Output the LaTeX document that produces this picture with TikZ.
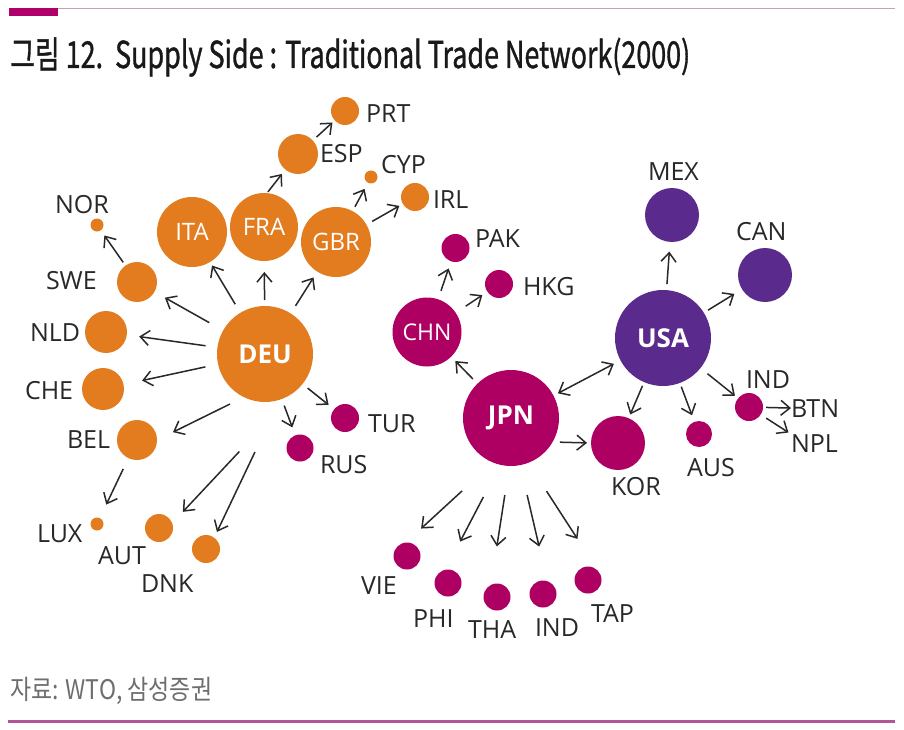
\documentclass[tikz,border=0pt]{standalone}
\usepackage{graphicx}
\usepackage{fontspec}
\setmainfont{Open Sans}
\newfontfamily\krfont{Noto Sans CJK KR}
\newfontfamily\krtitle[FakeBold=1.2]{Noto Sans CJK KR}
\usetikzlibrary{arrows.meta}
\definecolor{orng}{RGB}{226,124,31}
\definecolor{mgnt}{RGB}{174,0,98}
\definecolor{prpl}{RGB}{90,42,140}
\definecolor{ink}{RGB}{40,40,40}
\definecolor{rulec}{RGB}{200,160,190}
\definecolor{barc}{RGB}{176,0,106}
\definecolor{botline}{RGB}{178,84,152}
\definecolor{titlec}{RGB}{25,25,25}
\definecolor{srcc}{RGB}{110,110,110}
\begin{document}
\begin{tikzpicture}[x=1pt,y=-1pt,
  dot/.style={circle,inner sep=0pt,outer sep=0pt,minimum size={2pt*#1},text=white,font=\fontsize{24}{24}\selectfont},
  onode/.style={dot=#1,fill=orng},
  mnode/.style={dot=#1,fill=mgnt},
  pnode/.style={dot=#1,fill=prpl},
  big/.style={font=\fontsize{26}{26}\selectfont\bfseries},
  lbl/.style={anchor=base west,inner sep=0pt,outer sep=0pt,text=ink,font=\fontsize{25}{25}\selectfont},
  arr/.style={draw=ink,line width=1.5pt,-{Straight Barb[length=9pt,width=15pt]}},
  arrb/.style={draw=ink,line width=1.5pt,{Straight Barb[length=9pt,width=15pt]}-{Straight Barb[length=9pt,width=15pt]}}]
\fill[white] (0,0) rectangle (904,730);
\useasboundingbox (0,0) rectangle (904,730);
% header / footer
\draw[rulec,line width=1pt] (9,8.5) -- (895,8.5);
\fill[barc] (9,8) rectangle (58,16);
\node[anchor=base west,inner sep=0pt,text=titlec] (title) at (10,68)
  {\resizebox{680pt}{\height}{\krtitle\fontsize{37}{37}\selectfont 그림 12.\ \ Supply Side : Traditional Trade Network(2000)}};
\node[anchor=base west,inner sep=0pt,text=srcc] (src) at (10,699)
  {\resizebox{202pt}{\height}{\krfont\fontsize{27}{27}\selectfont 자료: WTO, 삼성증권}};
\draw[botline,line width=2.7pt] (8,721.3) -- (895,721.3);
% orange nodes
\node[onode=48,big] (deu) at (265,354) {DEU};
\node[onode=35] (ita) at (192,232) {ITA};
\node[onode=34] (fra) at (264,227) {FRA};
\node[onode=35] (gbr) at (336,242) {GBR};
\node[onode=20] (esp) at (298,154) {};
\node[onode=14] (prt) at (345,111) {};
\node[onode=6.5] (cyp) at (371,177) {};
\node[onode=14] (irl) at (415,197) {};
\node[onode=6.5] (nor) at (97,225) {};
\node[onode=20] (swe) at (137,282) {};
\node[onode=21] (nld) at (106,332) {};
\node[onode=21] (che) at (103,389) {};
\node[onode=20] (bel) at (137,440) {};
\node[onode=6.5] (lux) at (97,524) {};
\node[onode=14] (aut) at (159,528) {};
\node[onode=14] (dnk) at (206,549) {};
% magenta nodes
\node[mnode=14] (tur) at (345,418) {};
\node[mnode=13.5] (rus) at (300,448) {};
\node[mnode=34.5,font=\fontsize{23}{23}\selectfont] (chn) at (427,332) {CHN};
\node[mnode=14] (pak) at (455.5,248) {};
\node[mnode=14] (hkg) at (499,284) {};
\node[mnode=48,big] (jpn) at (511,418) {JPN};
\node[mnode=27] (kor) at (618,443) {};
\node[mnode=13] (aus) at (699,434) {};
\node[mnode=14] (ind1) at (749,407) {};
\node[mnode=13.5] (vie) at (407,556) {};
\node[mnode=13.5] (phi) at (448,583) {};
\node[mnode=13.5] (tha) at (497,597) {};
\node[mnode=13.5] (ind2) at (543,594) {};
\node[mnode=13.5] (tap) at (588,580) {};
% purple nodes
\node[pnode=48,big] (usa) at (663,338) {USA};
\node[pnode=27] (mex) at (672,215) {};
\node[pnode=27] (can) at (765,275) {};
% labels
\node[lbl] (lprt) at (366,123) {PRT};
\node[lbl] (lesp) at (320,163) {ESP};
\node[lbl] (lcyp) at (381,174) {CYP};
\node[lbl] (lirl) at (433,208) {IRL};
\node[lbl] (lnor) at (55,213) {NOR};
\node[lbl] (lswe) at (46,289) {SWE};
\node[lbl] (lnld) at (30,341) {NLD};
\node[lbl] (lche) at (25,399) {CHE};
\node[lbl] (lbel) at (67,448) {BEL};
\node[lbl] (ltur) at (368,432) {TUR};
\node[lbl] (lrus) at (320,473) {RUS};
\node[lbl] (llux) at (37,542) {LUX};
\node[lbl] (laut) at (98,564) {AUT};
\node[lbl] (ldnk) at (141,592) {DNK};
\node[lbl] (lvie) at (361,594) {VIE};
\node[lbl] (lphi) at (413,627) {PHI};
\node[lbl] (ltha) at (468,638) {THA};
\node[lbl] (lind2) at (535,636) {IND};
\node[lbl] (ltap) at (591,622) {TAP};
\node[lbl] (lkor) at (611,495) {KOR};
\node[lbl] (laus) at (687,476) {AUS};
\node[lbl] (lpak) at (475,247) {PAK};
\node[lbl] (lhkg) at (523,295) {HKG};
\node[lbl] (lmex) at (648,180) {MEX};
\node[lbl] (lcan) at (736,240) {CAN};
\node[lbl] (lind1) at (746,388) {IND};
\node[lbl] (btn) at (791,417) {BTN};
\node[lbl] (npl) at (791,452) {NPL};
% connectors: DEU
\draw[arr,shorten <=10pt,shorten >=4pt] (deu) -- (ita);
\draw[arr,shorten <=6pt,shorten >=11pt] (deu) -- (fra);
\draw[arr,shorten <=9pt,shorten >=7pt] (deu) -- (gbr);
\draw[arr,shorten <=16pt,shorten >=12pt] (deu) -- (swe);
\draw[arr,shorten <=12pt,shorten >=12.5pt] (deu) -- (nld);
\draw[arr,shorten <=13pt,shorten >=19pt] (deu) -- (che);
\draw[arr,shorten <=15.6pt,shorten >=17.8pt] (deu.244) -- (bel.0);
\draw[arr,shorten <=88pt,shorten >=15.6pt] (deu.316) -- (aut.20);
\draw[arr,shorten <=58pt,shorten >=6.4pt] (deu.288) -- (dnk.54);
\draw[arr,shorten <=7pt,shorten >=8.5pt] (deu) -- (rus);
\draw[arr,shorten <=6.6pt,shorten >=7pt] (deu) -- (tur);
\draw[arr,shorten <=12pt,shorten >=15pt] (bel) -- (lux);
\draw[arr,shorten <=4pt,shorten >=6.3pt] (swe) -- (nor);
\draw[arr,shorten <=1.5pt,shorten >=5.6pt] (fra.85) -- (esp.231);
\draw[arr,shorten <=5pt,shorten >=3pt] (esp) -- (prt);
\draw[arr,shorten <=5pt,shorten >=7pt] (gbr) -- (cyp);
\draw[arr,shorten <=6.7pt,shorten >=4pt] (gbr) -- (irl);
% connectors: CHN / JPN / USA
\draw[arr,shorten <=9pt,shorten >=7.6pt] (chn) -- (pak);
\draw[arr,shorten <=12pt,shorten >=6pt] (chn) -- (hkg);
\draw[arr,shorten <=6.5pt,shorten >=6pt] (jpn) -- (chn);
\draw[arrb,shorten <=5pt,shorten >=7.5pt] (jpn) -- (usa);
\draw[arr,shorten <=6pt,shorten >=9.7pt] (usa) -- (mex);
\draw[arr,shorten <=5pt,shorten >=9pt] (usa) -- (can);
\draw[arr,shorten <=4pt,shorten >=4pt] (usa) -- (kor);
\draw[arr,shorten <=4pt,shorten >=7pt] (usa) -- (aus);
\draw[arr,shorten <=9pt,shorten >=4pt] (usa) -- (ind1);
\draw[arr,shorten <=3pt,shorten >=0pt] (ind1) -- (btn.west);
\draw[arr,shorten <=6.5pt,shorten >=3pt] (ind1) -- (npl.north west);
\draw[arr,shorten <=7.4pt,shorten >=4pt] (jpn.330) -- (kor.180);
\draw[arr,shorten <=42pt,shorten >=20.7pt] (jpn.248) -- (vie.95);
\draw[arr,shorten <=36.4pt,shorten >=31.8pt] (jpn.257) -- (phi.101);
\draw[arr,shorten <=29.4pt,shorten >=39pt] (jpn.268) -- (tha.117);
\draw[arr,shorten <=30.6pt,shorten >=35.5pt] (jpn.281) -- (ind2.72);
\draw[arr,shorten <=33.8pt,shorten >=40pt] (jpn.291) -- (tap.34);
\end{tikzpicture}
\end{document}
